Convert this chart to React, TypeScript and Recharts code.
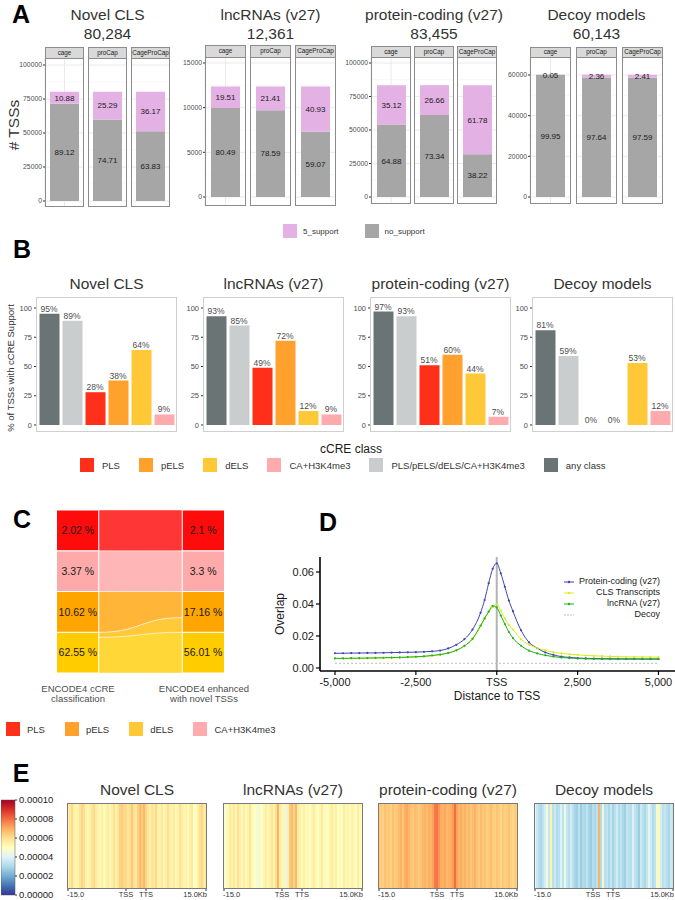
import React from "react";
import {
  BarChart,
  Bar,
  XAxis,
  YAxis,
  CartesianGrid,
  LabelList,
  Cell,
  LineChart,
  Line,
  ReferenceLine,
  ComposedChart,
  Area,
  Scatter,
} from "recharts";

const FONT = '"Liberation Sans", Arial, Helvetica, sans-serif';

// ---------- panel A: TSS support by capture method
const groupNames = ["Novel CLS", "lncRNAs (v27)", "protein-coding (v27)", "Decoy models"];
const groupTotals = [80284, 12361, 83455, 60143];
const captureMethods = ["cage", "proCap", "CageProCap"];
const supportPct = [
  [10.88, 25.29, 36.17],
  [19.51, 21.41, 40.93],
  [35.12, 26.66, 61.78],
  [0.05, 2.36, 2.41],
];
const noSupportPct = [
  [89.12, 74.71, 63.83],
  [80.49, 78.59, 59.07],
  [64.88, 73.34, 38.22],
  [99.95, 97.64, 97.59],
];
const countTicks = [
  [0, 25000, 50000, 75000, 100000],
  [0, 5000, 10000, 15000],
  [0, 25000, 50000, 75000, 100000],
  [0, 20000, 40000, 60000],
];

// ---------- panel B: % of TSSs with cCRE support
const cCreClasses = ["any class", "PLS/pELS/dELS/CA+H3K4me3", "PLS", "pELS", "dELS", "CA+H3K4me3"];
const legendOrderB = ["PLS", "pELS", "dELS", "CA+H3K4me3", "PLS/pELS/dELS/CA+H3K4me3", "any class"];
const cCreSupport = [
  [95, 89, 28, 38, 64, 9],
  [93, 85, 49, 72, 12, 9],
  [97, 93, 51, 60, 44, 7],
  [81, 59, 0, 0, 53, 12],
];
const percentTicks = [0, 25, 50, 75, 100];

// ---------- panel C: alluvial (bottom to top)
const strata = ["dELS", "pELS", "CA+H3K4me3", "PLS"];
const encodePct = [62.55, 10.62, 3.37, 2.02];
const enhancedPct = [56.01, 17.16, 3.3, 2.1];
const stratumShare = [25, 25, 25, 25];
const flowFrom = ["dELS", "dELS", "pELS", "CA+H3K4me3", "PLS"];
const flowTo = ["dELS", "pELS", "pELS", "CA+H3K4me3", "PLS"];
const flowLeftShare = [22, 3, 25, 25, 25];
const flowRightShare = [25, 9, 16, 25, 25];
const legendOrderC = ["PLS", "pELS", "dELS", "CA+H3K4me3"];

// ---------- panel D: overlap around TSS
const distanceBins = [
  -5000, -4750, -4500, -4250, -4000, -3750, -3500, -3250, -3000, -2750, -2500, -2250, -2000,
  -1750, -1500, -1250, -1000, -750, -500, -375, -250, -125, 0, 125, 250, 375, 500, 750, 1000,
  1250, 1500, 1750, 2000, 2250, 2500, 2750, 3000, 3250, 3500, 3750, 4000, 4250, 4500, 4750, 5000,
];
const pcOverlap = [
  0.0092, 0.0092, 0.0093, 0.0093, 0.0094, 0.0094, 0.0095, 0.0096, 0.0097, 0.0098, 0.0099, 0.0101,
  0.0104, 0.0109, 0.0122, 0.0145, 0.018, 0.024, 0.0345, 0.0425, 0.053, 0.062, 0.0655, 0.0592,
  0.0508, 0.0422, 0.0355, 0.0236, 0.016, 0.0124, 0.0097, 0.0082, 0.0071, 0.0066, 0.0062, 0.006,
  0.0059, 0.0058, 0.0058, 0.0057, 0.0057, 0.0057, 0.0056, 0.0056, 0.0056,
];
const clsOverlap = [
  0.0059, 0.0059, 0.006, 0.006, 0.0061, 0.0062, 0.0063, 0.0064, 0.0065, 0.0067, 0.0069, 0.0072,
  0.0077, 0.0083, 0.0093, 0.0109, 0.0137, 0.018, 0.026, 0.0308, 0.0352, 0.038, 0.04, 0.0358, 0.031,
  0.027, 0.024, 0.018, 0.0145, 0.0125, 0.011, 0.0098, 0.0091, 0.0086, 0.0082, 0.0078, 0.0076,
  0.0074, 0.0072, 0.0071, 0.007, 0.0069, 0.0069, 0.0068, 0.0068,
];
const lncOverlap = [
  0.006, 0.006, 0.0061, 0.0061, 0.0062, 0.0063, 0.0064, 0.0065, 0.0066, 0.0068, 0.007, 0.0073,
  0.0078, 0.0084, 0.0094, 0.011, 0.0138, 0.0182, 0.0265, 0.031, 0.0352, 0.0388, 0.0378, 0.0328,
  0.0275, 0.0225, 0.0187, 0.0139, 0.0108, 0.0091, 0.0079, 0.0071, 0.0065, 0.0062, 0.0059, 0.0057,
  0.0056, 0.0056, 0.0055, 0.0055, 0.0055, 0.0055, 0.0055, 0.0055, 0.0056,
];
const decoyOverlap = [
  0.0029, 0.0029, 0.0029, 0.0029, 0.0029, 0.0029, 0.0029, 0.0029, 0.0029, 0.0029, 0.0029, 0.0029,
  0.0029, 0.0029, 0.0029, 0.0029, 0.0029, 0.0029, 0.0029, 0.0029, 0.0029, 0.0029, 0.0029, 0.0029,
  0.0029, 0.0029, 0.0029, 0.0029, 0.0029, 0.0029, 0.0029, 0.0029, 0.0029, 0.0029, 0.0029, 0.0029,
  0.0029, 0.0029, 0.0029, 0.0029, 0.0029, 0.0029, 0.0029, 0.0029, 0.0029,
];
const distanceTicks = [-5000, -2500, 0, 2500, 5000];
const overlapTicks = [0, 0.02, 0.04, 0.06];

// ---------- panel E: signal heatmaps (units of 1e-5)
const heatNovelCls = [
  5.5, 5.7, 6.1, 5.5, 5.3, 5.4, 5.8, 6.2, 6.0, 5.4, 5.3, 5.5, 5.8, 6.1, 5.6, 5.4, 5.2, 5.5, 5.1, 5.4,
  5.6, 5.3, 5.5, 5.9, 5.4, 5.7, 6.3, 6.4, 6.2, 6.1, 5.8, 6.0, 6.5, 5.9, 5.7, 6.3, 6.7, 6.4, 6.8, 6.2,
  5.8, 5.5, 5.9, 5.6, 6.1, 5.5, 5.4, 5.7, 5.3, 5.5, 6.0, 5.5, 5.4, 5.6, 5.2, 5.4, 5.9, 5.5, 5.3, 5.4,
  5.1, 5.5, 5.7, 5.0, 4.9, 5.5, 6.0, 6.2, 5.6, 5.8,
];
const heatLncRna = [
  4.7, 4.8, 5.2, 5.6, 5.4, 5.7, 5.3, 5.9, 5.5, 5.2, 5.6, 5.1, 5.4, 5.8, 5.3, 5.0, 4.8, 4.6, 4.7, 4.9,
  5.3, 5.6, 5.2, 5.5, 5.8, 5.4, 6.0, 6.9, 5.6, 5.3, 5.2, 4.2, 5.4, 6.5, 6.7, 6.2, 6.8, 5.6, 5.4, 5.2,
  5.5, 5.1, 5.3, 4.9, 5.4, 5.6, 5.2, 5.0, 5.3, 5.7, 5.2, 4.8, 5.1, 5.4, 5.6, 5.3, 5.5, 5.0, 5.2, 4.9,
  5.6, 5.2, 5.4, 5.1, 5.5, 5.3, 5.0, 5.6, 5.2, 5.1,
];
const heatProteinCoding = [
  6.4, 6.5, 6.3, 6.6, 6.4, 6.5, 6.3, 6.6, 6.4, 6.5, 6.7, 6.9, 6.5, 7.0, 7.1, 6.8, 6.6, 6.5, 6.7, 6.6,
  6.4, 6.6, 6.8, 6.9, 6.7, 7.0, 6.9, 7.2, 7.8, 7.9, 7.4, 7.0, 6.9, 7.1, 6.8, 6.9, 7.0, 7.3, 8.0, 7.2,
  6.8, 7.0, 6.7, 6.9, 6.6, 6.8, 6.5, 6.7, 6.9, 6.6, 6.4, 6.7, 6.5, 6.6, 6.3, 6.5, 6.7, 6.4, 6.3, 6.6,
  6.4, 6.2, 6.5, 6.3, 6.4, 6.6, 6.3, 6.2, 6.4, 6.3,
];
const heatDecoy = [
  4.2, 3.6, 3.2, 3.0, 3.4, 3.8, 4.5, 3.5, 5.4, 3.3, 3.6, 3.1, 3.3, 3.9, 3.4, 4.4, 3.5, 3.2, 3.7, 3.3,
  2.9, 2.8, 3.4, 2.7, 3.1, 3.0, 3.4, 2.9, 2.7, 3.2, 3.0, 3.3, 6.9, 3.1, 4.5, 3.2, 3.4, 3.0, 3.5, 2.9,
  3.3, 3.7, 3.1, 3.4, 3.0, 2.8, 3.5, 3.3, 3.2, 3.9, 3.4, 3.1, 2.7, 3.6, 3.3, 3.0, 3.5, 4.2, 3.6, 3.1,
  3.4, 4.6, 5.2, 3.8, 3.3, 3.5, 3.2, 3.0, 3.6, 3.4,
];
const heatTickLabels = ["-15.0", "TSS", "TTS", "15.0Kb"];
const heatTickBins = [0, 29, 39, 69];
const colorbarTicks = [0, 0.00002, 0.00004, 0.00006, 0.00008, 0.0001];

// ---------- styles / layout
const CLASS_COLORS: Record<string, string> = {
  "any class": "#6b7474",
  "PLS/pELS/dELS/CA+H3K4me3": "#c9cdcd",
  PLS: "#ff2f19",
  pELS: "#ffa12c",
  dELS: "#ffc837",
  "CA+H3K4me3": "#ffabae",
};
const STRATUM_COLORS: Record<string, string> = {
  PLS: "#fe0b0b",
  "CA+H3K4me3": "#ffaaaa",
  pELS: "#ffa500",
  dELS: "#ffcc00",
};
const FLOW_COLORS = ["#ffd736", "#ffc93a", "#ffb638", "#ffb6b6", "#ff3636"];
const RDYLBU = [
  "#313695", "#4575b4", "#74add1", "#abd9e9", "#e0f3f8", "#ffffbf",
  "#fee090", "#fdae61", "#f46d43", "#d73027", "#a50026",
];

const A_LAYOUT = [
  { x: 45, step: 43, w: 39, stripTop: 47, top: 58, bottom: 207, domain: [-4410, 105150] },
  { x: 205, step: 45, w: 41, stripTop: 45, top: 57, bottom: 206, domain: [-1010, 15670] },
  { x: 371, step: 43, w: 40, stripTop: 46, top: 57, bottom: 204, domain: [-5220, 104480] },
  { x: 530, step: 46, w: 41, stripTop: 47, top: 57, bottom: 204, domain: [-3440, 68850] },
];
const B_BOX_X = [36, 203, 370, 532];
const B_TOP = 297;
const B_W = 141;
const B_H = 135;
const E_X = [67, 223, 378, 534];
const E_TOP = 803;
const E_W = 140;
const E_H = 86;

const NO_MARGIN = { top: 0, right: 0, bottom: 0, left: 0 };

function hexToRgb(h: string) {
  const n = parseInt(h.slice(1), 16);
  return [(n >> 16) & 255, (n >> 8) & 255, n & 255];
}

function heatColor(v: number) {
  const t = Math.max(0, Math.min(10, v));
  const i = Math.min(9, Math.floor(t));
  const f = t - i;
  const a = hexToRgb(RDYLBU[i]);
  const b = hexToRgb(RDYLBU[i + 1]);
  const c = a.map((x, k) => Math.round(x + (b[k] - x) * f));
  return `rgb(${c[0]},${c[1]},${c[2]})`;
}

function T({
  x,
  y,
  size,
  children,
  anchor = "middle",
  weight = 400,
  color = "#333",
  rotate,
  lineHeight = 1.1,
}: any) {
  const tx = anchor === "middle" ? "-50%" : anchor === "end" ? "-100%" : "0";
  return (
    <div
      style={{
        position: "absolute",
        left: x,
        top: y,
        transform: `translate(${tx}, -50%)${rotate ? ` rotate(${rotate}deg)` : ""}`,
        fontSize: size,
        fontWeight: weight,
        color,
        whiteSpace: "pre",
        lineHeight,
        textAlign: "center",
      }}
    >
      {children}
    </div>
  );
}

function Box({ x, y, w, h, color }: any) {
  return (
    <div
      style={{
        position: "absolute",
        left: x,
        top: y,
        width: w,
        height: h,
        border: `1px solid ${color}`,
        boxSizing: "border-box",
        pointerEvents: "none",
      }}
    />
  );
}

// centred single-line label that never wraps
function centreLabel(size: number, fill: string) {
  return (p: any) => {
    const vb = p.viewBox || p;
    const cx = vb.x + (vb.width || 0) / 2;
    const cy = vb.y + (vb.height || 0) / 2;
    return (
      <text x={cx} y={cy} dy="0.35em" textAnchor="middle" fontSize={size} fill={fill}>
        {p.value}
      </text>
    );
  };
}

function CountFacet({ g, m }: { g: number; m: number }) {
  const L = A_LAYOUT[g];
  const first = m === 0;
  const axisW = first ? 32 : 0;
  const left = L.x + m * L.step;
  const h = L.bottom - L.top;
  const majors = countTicks[g];
  const minors = majors.slice(1).map((t, i) => (t + majors[i]) / 2);
  const row = [
    {
      method: captureMethods[m],
      noSupport: (groupTotals[g] * noSupportPct[g][m]) / 100,
      support: (groupTotals[g] * supportPct[g][m]) / 100,
      noLabel: noSupportPct[g][m].toFixed(2),
      supLabel: supportPct[g][m].toFixed(2),
    },
  ];
  return (
    <>
      <div style={{ position: "absolute", left: left - axisW, top: L.top }}>
        <BarChart width={L.w + axisW} height={h} data={row} margin={NO_MARGIN}>
          <CartesianGrid horizontalValues={minors} vertical={false} stroke="#f3f3f3" strokeWidth={0.6} />
          <CartesianGrid horizontalValues={majors} stroke="#e8e8e8" strokeWidth={0.9} />
          <XAxis dataKey="method" hide />
          <YAxis
            hide={!first}
            width={axisW}
            domain={L.domain}
            allowDataOverflow
            ticks={majors}
            interval={0}
            tickSize={2}
            tickMargin={1}
            axisLine={false}
            tickLine={{ stroke: "#333" }}
            tick={{ fontSize: 6.8, fill: "#4d4d4d" }}
          />
          <Bar dataKey="noSupport" stackId="s" fill="#a6a6a6" barSize={29} isAnimationActive={false}>
            <LabelList dataKey="noLabel" content={centreLabel(8, "#1a1a1a")} />
          </Bar>
          <Bar dataKey="support" stackId="s" fill="#e4b1e4" barSize={29} isAnimationActive={false}>
            <LabelList dataKey="supLabel" content={centreLabel(8, "#1a1a1a")} />
          </Bar>
        </BarChart>
      </div>
      <Box x={left} y={L.top} w={L.w} h={h} color="#8c8c8c" />
      <div
        style={{
          position: "absolute",
          left,
          top: L.stripTop,
          width: L.w,
          height: L.top - L.stripTop + 1,
          background: "#d9d9d9",
          border: "1px solid #8c8c8c",
          boxSizing: "border-box",
          fontSize: 6.3,
          color: "#1a1a1a",
          display: "flex",
          alignItems: "center",
          justifyContent: "center",
          lineHeight: 1,
          whiteSpace: "nowrap",
          overflow: "hidden",
        }}
      >
        {captureMethods[m]}
      </div>
    </>
  );
}

function CountGroup({ g }: { g: number }) {
  const L = A_LAYOUT[g];
  const cx = L.x + (2 * L.step + L.w) / 2;
  return (
    <>
      <T x={cx} y={15} size={15.5}>{groupNames[g]}</T>
      <T x={cx} y={34} size={15.5}>{groupTotals[g].toLocaleString("en-US")}</T>
      {captureMethods.map((_, m) => (
        <CountFacet key={m} g={g} m={m} />
      ))}
    </>
  );
}

function SupportFacet({ g }: { g: number }) {
  const left = B_BOX_X[g];
  const axisW = 22;
  const rows = cCreClasses.map((c, i) => ({ cls: c, rate: cCreSupport[g][i] }));
  return (
    <>
      <T x={left + B_W / 2} y={284} size={15.5}>{groupNames[g]}</T>
      <div style={{ position: "absolute", left: left - axisW, top: B_TOP }}>
        <ComposedChart width={B_W + axisW} height={B_H} data={rows} margin={NO_MARGIN} barCategoryGap={0}>
          <XAxis dataKey="cls" hide padding={{ left: 1.5, right: 1.5 }} />
          <YAxis
            width={axisW}
            domain={[-6, 109.4]}
            allowDataOverflow
            ticks={percentTicks}
            interval={0}
            tickSize={2}
            tickMargin={2}
            axisLine={false}
            tickLine={{ stroke: "#333" }}
            tick={{ fontSize: 7.5, fill: "#4d4d4d" }}
          />
          <Bar dataKey="rate" barSize={20} isAnimationActive={false}>
            {rows.map((r) => (
              <Cell key={r.cls} fill={CLASS_COLORS[r.cls]} />
            ))}
          </Bar>
          <Line
            dataKey="rate"
            stroke="none"
            dot={false}
            activeDot={false}
            isAnimationActive={false}
            legendType="none"
          >
            <LabelList
              dataKey="rate"
              position="top"
              offset={2}
              formatter={(v: any) => `${v}%`}
              fill="#4d4d4d"
              fontSize={8.5}
            />
          </Line>
        </ComposedChart>
      </div>
      <Box x={left} y={B_TOP} w={B_W} h={B_H} color="#cfcfcf" />
    </>
  );
}

function Alluvial() {
  const lo = (arr: number[], i: number) => arr.slice(0, i).reduce((s, v) => s + v, 0);
  const rows: any[] = [{ x: 0 }, { x: 1 }, { x: 3 }, { x: 4 }];
  strata.forEach((_, i) => {
    const r = [lo(stratumShare, i), lo(stratumShare, i) + stratumShare[i]];
    rows[0][`L${i}`] = r;
    rows[1][`L${i}`] = r;
    rows[2][`R${i}`] = r;
    rows[3][`R${i}`] = r;
  });
  flowFrom.forEach((_, j) => {
    rows[1][`F${j}`] = [lo(flowLeftShare, j), lo(flowLeftShare, j) + flowLeftShare[j]];
    rows[2][`F${j}`] = [lo(flowRightShare, j), lo(flowRightShare, j) + flowRightShare[j]];
  });
  const labels = [
    ...strata.map((_, i) => ({ x: 0.5, y: lo(stratumShare, i) + stratumShare[i] / 2, t: `${encodePct[i]} %` })),
    ...strata.map((_, i) => ({ x: 3.5, y: lo(stratumShare, i) + stratumShare[i] / 2, t: `${enhancedPct[i]} %` })),
  ];
  return (
    <div style={{ position: "absolute", left: 57, top: 510 }}>
      <ComposedChart width={167} height={163} data={rows} margin={NO_MARGIN}>
        <XAxis dataKey="x" type="number" domain={[0, 4]} hide />
        <YAxis dataKey="y" type="number" domain={[0, 100]} hide />
        {flowFrom.map((f, j) => (
          <Area
            key={`F${j}`}
            dataKey={`F${j}`}
            type="bumpX"
            fill={FLOW_COLORS[j]}
            fillOpacity={1}
            stroke="#ffffff"
            strokeOpacity={0.55}
            strokeWidth={0.8}
            dot={false}
            activeDot={false}
            isAnimationActive={false}
            name={`${f} → ${flowTo[j]}`}
          />
        ))}
        {strata.map((s, i) => (
          <Area
            key={`L${i}`}
            dataKey={`L${i}`}
            type="linear"
            fill={STRATUM_COLORS[s]}
            fillOpacity={1}
            stroke="#ffffff"
            strokeWidth={1}
            dot={false}
            activeDot={false}
            isAnimationActive={false}
          />
        ))}
        {strata.map((s, i) => (
          <Area
            key={`R${i}`}
            dataKey={`R${i}`}
            type="linear"
            fill={STRATUM_COLORS[s]}
            fillOpacity={1}
            stroke="#ffffff"
            strokeWidth={1}
            dot={false}
            activeDot={false}
            isAnimationActive={false}
          />
        ))}
        <ReferenceLine x={1} stroke="#ffffff" strokeWidth={1} />
        <ReferenceLine x={3} stroke="#ffffff" strokeWidth={1} />
        <Scatter data={labels} fill="transparent" isAnimationActive={false}>
          <LabelList dataKey="t" content={centreLabel(10.5, "#1a1a1a")} />
        </Scatter>
      </ComposedChart>
    </div>
  );
}

const dSeries = [
  { key: "pc", name: "Protein-coding (v27)", color: "#4343b0" },
  { key: "cls", name: "CLS Transcripts", color: "#d8ee1c" },
  { key: "lnc", name: "lncRNA (v27)", color: "#20b020" },
  { key: "decoy", name: "Decoy", color: "#bdbdbd" },
];

function fmtDist(v: number) {
  return v === 0 ? "TSS" : v.toLocaleString("en-US");
}

function OverlapChart() {
  const rows = distanceBins.map((d, i) => ({
    d,
    pc: pcOverlap[i],
    cls: clsOverlap[i],
    lnc: lncOverlap[i],
    decoy: decoyOverlap[i],
  }));
  const lineProps = (color: string) => ({
    type: "monotone" as const,
    stroke: color,
    strokeWidth: 1,
    dot: { r: 1.1, fill: color, stroke: "none" },
    activeDot: false,
    isAnimationActive: false,
  });
  return (
    <>
      <div style={{ position: "absolute", left: 280, top: 557 }}>
        <LineChart width={395} height={144} data={rows} margin={NO_MARGIN}>
          <XAxis
            dataKey="d"
            type="number"
            domain={[-5464, 5511]}
            allowDataOverflow
            ticks={distanceTicks}
            interval={0}
            tickFormatter={fmtDist}
            axisLine={{ stroke: "#000", strokeWidth: 1.6 }}
            tickLine={{ stroke: "#000", strokeWidth: 1.2 }}
            tickSize={4}
            tickMargin={3}
            tick={{ fontSize: 11, fill: "#1a1a1a" }}
            height={30}
          />
          <YAxis
            type="number"
            domain={[-0.0019, 0.0694]}
            allowDataOverflow
            ticks={overlapTicks}
            interval={0}
            tickFormatter={(v: number) => v.toFixed(2)}
            axisLine={{ stroke: "#000", strokeWidth: 1.6 }}
            tickLine={{ stroke: "#000", strokeWidth: 1.2 }}
            tickSize={4}
            tickMargin={2}
            tick={{ fontSize: 11, fill: "#1a1a1a" }}
            width={40}
          />
          <ReferenceLine x={0} stroke="#b3b3b3" strokeWidth={2} />
          <Line
            dataKey="decoy"
            type="monotone"
            stroke="#bdbdbd"
            strokeWidth={1}
            strokeDasharray="2 2"
            dot={false}
            activeDot={false}
            isAnimationActive={false}
          />
          <Line dataKey="pc" {...lineProps("#4343b0")} />
          <Line dataKey="cls" {...lineProps("#d8ee1c")} />
          <Line dataKey="lnc" {...lineProps("#20b020")} />
        </LineChart>
      </div>
      <div style={{ position: "absolute", left: 563, top: 576, width: 97 }}>
        {dSeries.map((s) => (
          <div
            key={s.key}
            style={{ display: "flex", justifyContent: "space-between", alignItems: "center", height: 11 }}
          >
            <svg width={12} height={6}>
              <line
                x1={1}
                y1={3}
                x2={11}
                y2={3}
                stroke={s.color}
                strokeWidth={1}
                strokeDasharray={s.key === "decoy" ? "2 1" : undefined}
              />
              {s.key !== "decoy" && <circle cx={6} cy={3} r={1.2} fill={s.color} />}
            </svg>
            <span style={{ fontSize: 9, color: "#1a1a1a", lineHeight: 1 }}>{s.name}</span>
          </div>
        ))}
      </div>
      <T x={281} y={614} size={12} color="#1a1a1a" rotate={-90}>Overlap</T>
      <T x={497} y={697} size={12} color="#1a1a1a">Distance to TSS</T>
    </>
  );
}

const heatValues = [heatNovelCls, heatLncRna, heatProteinCoding, heatDecoy];

function HeatTick(props: any) {
  const { x, y, payload } = props;
  const i = heatTickBins.indexOf(payload.value);
  const last = heatTickBins.length - 1;
  const anchor = i === 0 ? "start" : i === last ? "end" : "middle";
  const dx = i === 0 ? -1 : i === last ? 1 : 0;
  return (
    <text x={x + dx} y={y} dy="0.71em" textAnchor={anchor} fontSize={7.5} fill="#333">
      {heatTickLabels[i]}
    </text>
  );
}

function Heatmap({ g }: { g: number }) {
  const rows = heatValues[g].map((v, i) => ({ bin: i, v, span: 1 }));
  const left = E_X[g];
  return (
    <>
      <T x={left + E_W / 2} y={790} size={15.5}>{groupNames[g]}</T>
      <div style={{ position: "absolute", left, top: E_TOP }}>
        <BarChart width={E_W} height={E_H + 14} data={rows} margin={NO_MARGIN} barCategoryGap={0} barGap={0}>
          <XAxis
            dataKey="bin"
            ticks={heatTickBins}
            interval={0}
            tick={HeatTick}
            tickSize={2}
            tickMargin={1}
            tickLine={{ stroke: "#333" }}
            axisLine={false}
            height={14}
          />
          <YAxis hide domain={[0, 1]} />
          <Bar dataKey="span" isAnimationActive={false}>
            {rows.map((r) => (
              <Cell key={r.bin} fill={heatColor(r.v)} />
            ))}
          </Bar>
        </BarChart>
      </div>
      <Box x={left} y={E_TOP} w={E_W} h={E_H} color="#7a7a7a" />
    </>
  );
}

function ColorBar() {
  const top = colorbarTicks[colorbarTicks.length - 1];
  return (
    <div style={{ position: "absolute", left: 1, top: 795 }}>
      <BarChart
        width={58}
        height={105}
        data={[{ k: "scale", top }]}
        margin={{ top: 5, right: 0, bottom: 5, left: 0 }}
        barCategoryGap={0}
      >
        <defs>
          <linearGradient id="cbar" x1="0" y1="1" x2="0" y2="0">
            {RDYLBU.map((c, i) => (
              <stop key={c} offset={`${i * 10}%`} stopColor={c} />
            ))}
          </linearGradient>
        </defs>
        <XAxis dataKey="k" hide />
        <YAxis
          orientation="right"
          width={44}
          domain={[0, top]}
          ticks={colorbarTicks}
          interval={0}
          tickFormatter={(v: number) => v.toFixed(5)}
          tickSize={2}
          tickMargin={2}
          axisLine={false}
          tickLine={{ stroke: "#333" }}
          tick={{ fontSize: 9.5, fill: "#1a1a1a" }}
        />
        <Bar dataKey="top" fill="url(#cbar)" stroke="#555" strokeWidth={0.5} isAnimationActive={false} />
      </BarChart>
    </div>
  );
}

function LegendRow({ x, y, items, colors, size, gap, inner, box }: any) {
  return (
    <div
      style={{
        position: "absolute",
        left: x,
        top: y,
        display: "flex",
        alignItems: "center",
        gap,
        fontSize: size,
        color: "#333",
        whiteSpace: "nowrap",
      }}
    >
      {items.map((it: string) => (
        <div key={it} style={{ display: "flex", alignItems: "center", gap: inner }}>
          <div style={{ width: box, height: box, background: colors[it] }} />
          <span>{it}</span>
        </div>
      ))}
    </div>
  );
}

export default function App() {
  return (
    <div
      style={{
        position: "absolute",
        left: 0,
        top: 0,
        width: 675,
        height: 900,
        background: "#fff",
        fontFamily: FONT,
        overflow: "hidden",
      }}
    >
      {/* A */}
      <T x={21} y={15} size={25} weight={700} color="#000">A</T>
      <T x={14} y={125} size={15.5} rotate={-90}># TSSs</T>
      {groupNames.map((_, g) => (
        <CountGroup key={g} g={g} />
      ))}
      <LegendRow
        x={283}
        y={224}
        items={["5_support", "no_support"]}
        colors={{ "5_support": "#e4b1e4", no_support: "#a6a6a6" }}
        size={8}
        gap={26}
        inner={6}
        box={14}
      />

      {/* B */}
      <T x={22} y={250} size={25} weight={700} color="#000">B</T>
      <T x={11} y={368} size={9.5} rotate={-90}>% of TSSs with cCRE Support</T>
      {groupNames.map((_, g) => (
        <SupportFacet key={g} g={g} />
      ))}
      <T x={351} y={450} size={12} color="#1a1a1a">cCRE class</T>
      <LegendRow
        x={80}
        y={458}
        items={legendOrderB}
        colors={CLASS_COLORS}
        size={9.5}
        gap={19}
        inner={8}
        box={14}
      />

      {/* C */}
      <T x={22} y={520} size={25} weight={700} color="#000">C</T>
      <Alluvial />
      <T x={78} y={694} size={9.5} color="#4d4d4d" lineHeight="10px">{"ENCODE4 cCRE\nclassification"}</T>
      <T x={204} y={694} size={9.5} color="#4d4d4d" lineHeight="10px">{"ENCODE4 enhanced\nwith novel TSSs"}</T>
      <LegendRow
        x={6}
        y={722}
        items={legendOrderC}
        colors={CLASS_COLORS}
        size={9.5}
        gap={20}
        inner={7}
        box={14}
      />

      {/* D */}
      <T x={328} y={523} size={25} weight={700} color="#000">D</T>
      <OverlapChart />

      {/* E */}
      <T x={21} y={774} size={25} weight={700} color="#000">E</T>
      <ColorBar />
      {groupNames.map((_, g) => (
        <Heatmap key={g} g={g} />
      ))}
    </div>
  );
}
